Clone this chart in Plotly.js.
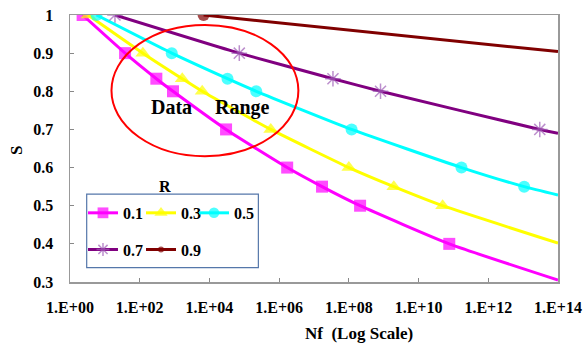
<!DOCTYPE html>
<html>
<head>
<meta charset="utf-8">
<script src="https://cdn.plot.ly/plotly-3.0.1.min.js"></script>
<style>
html,body{margin:0;padding:0;background:#fff;}
#chart{width:585px;height:345px;}
</style>
</head>
<body>
<div id="chart"></div>
<script>
// ---- data ----
var seriesNames = ["0.1", "0.3", "0.5", "0.7", "0.9"];

var nfR01 = [2.3, 38, 300, 900, 3.0e4, 1.7e6, 1.7e7, 2.1e8, 7.6e10, 1e14];
var sR01  = [1, 0.9, 0.833, 0.8, 0.7, 0.6, 0.55, 0.5, 0.4, 0.305];

var nfR03 = [3.3, 123, 1.66e3, 6.2e3, 5.75e5, 1.0e8, 1.95e9, 4.9e10, 1e14];
var sR03  = [1, 0.9, 0.833, 0.8, 0.7, 0.6, 0.55, 0.5, 0.402];

var nfR05 = [5.75, 830, 3.3e4, 2.2e5, 1.2e8, 1.7e11, 1.07e13, 1e14];
var sR05  = [1, 0.9, 0.833, 0.8, 0.7, 0.6, 0.55, 0.528];

var nfR07 = [19.5, 7.2e4, 3.5e7, 8.1e8, 3.0e13, 1e14];
var sR07  = [1, 0.9, 0.833, 0.8, 0.7, 0.69];

var nfR09 = [6.8e3, 1e14];
var sR09  = [1, 0.904];

var xTickVals = [1, 1e2, 1e4, 1e6, 1e8, 1e10, 1e12, 1e14];
var xTickText = ["1.E+00", "1.E+02", "1.E+04", "1.E+06", "1.E+08", "1.E+10", "1.E+12", "1.E+14"];
var yTickVals = [0.3, 0.4, 0.5, 0.6, 0.7, 0.8, 0.9, 1];
var yTickText = ["0.3", "0.4", "0.5", "0.6", "0.7", "0.8", "0.9", "1"];

// ---- styling ----
var serif = "'Liberation Serif', 'Times New Roman', serif";
function sizes(n, s) { var a = []; for (var i = 0; i < n; i++) a.push(i === n - 1 ? 0 : s); return a; }

function tr(x, y, name, color, symbol, msize, mcolor, legend) {
  return {
    x: x, y: y, name: name, type: "scatter", mode: "lines+markers",
    line: {color: color, width: 3, shape: "spline", smoothing: 0.5},
    marker: {symbol: symbol, size: sizes(x.length, msize), color: mcolor,
             line: {color: mcolor, width: symbol === "asterisk-open" ? 1.5 : 0}},
    legend: legend
  };
}

var data = [
  tr(nfR01, sR01, seriesNames[0], "#FF00FF", "square", 12, "#FF00FF", "legend"),
  tr(nfR03, sR03, seriesNames[1], "#FFFF00", "triangle-up", 13, "#FFFF00", "legend2"),
  tr(nfR05, sR05, seriesNames[2], "#00FFFF", "circle", 12, "#00FFFF", "legend3"),
  tr(nfR07, sR07, seriesNames[3], "#800080", "asterisk-open", 13, "#A060B8", "legend4"),
  tr(nfR09, sR09, seriesNames[4], "#800000", "circle", 12, "#800000", "legend5")
];

var tickFont = {family: serif, size: 16, color: "#000", weight: "bold"};
var legFont = {family: serif, size: 16, color: "#000", weight: "bold"};

function leg(x, y) {
  return {orientation: "h", x: x, xanchor: "left", y: y, yanchor: "middle",
          bgcolor: "rgba(0,0,0,0)", borderwidth: 0, font: legFont, itemwidth: 30};
}
var row1 = 0.2587, row2 = 0.1215;

var layout = {
  width: 585, height: 345,
  margin: {l: 70, r: 27, t: 15, b: 63},
  paper_bgcolor: "#fff", plot_bgcolor: "#fff",
  showlegend: true,
  xaxis: {
    type: "log", range: [0, 14],
    tickvals: xTickVals, ticktext: xTickText,
    ticks: "inside", ticklen: 4, tickcolor: "#888",
    showgrid: false, zeroline: false,
    showline: true, linecolor: "#999", linewidth: 1.5, mirror: true,
    tickfont: tickFont, ticklabelstandoff: 10
  },
  yaxis: {
    range: [0.3, 1],
    tickvals: yTickVals, ticktext: yTickText,
    ticks: "inside", ticklen: 4, tickcolor: "#888",
    showgrid: false, zeroline: false,
    showline: true, linecolor: "#999", linewidth: 1.5, mirror: true,
    tickfont: tickFont, ticklabelstandoff: 12
  },
  legend:  leg(0.0266, row1),
  legend2: leg(0.1455, row1),
  legend3: leg(0.2541, row1),
  legend4: leg(0.0266, row2),
  legend5: leg(0.1455, row2),
  shapes: [
    {type: "rect", xref: "paper", yref: "paper", x0: 0.0342, x1: 0.386, y0: 0.054, y1: 0.329,
     line: {color: "#5577AA", width: 1.2}, fillcolor: "rgba(0,0,0,0)", layer: "above"},
    {type: "circle", xref: "x domain", yref: "y domain", x0: 0.085, x1: 0.468, y0: 0.471, y1: 0.963,
     line: {color: "#FF0000", width: 2}, layer: "above"}
  ],
  annotations: [
    {text: "R", xref: "paper", yref: "paper", x: 0.1947, y: 0.3588, xanchor: "center", yanchor: "middle",
     showarrow: false, font: {family: serif, size: 16, color: "#000", weight: "bold"}},
    {text: "Data", xref: "paper", yref: "paper", x: 0.207, y: 0.655, xanchor: "center", yanchor: "middle",
     showarrow: false, font: {family: serif, size: 20, color: "#000", weight: "bold"}},
    {text: "Range", xref: "paper", yref: "paper", x: 0.3545, y: 0.655, xanchor: "center", yanchor: "middle",
     showarrow: false, font: {family: serif, size: 20, color: "#000", weight: "bold"}},
    {text: "S", xref: "paper", yref: "paper", x: -0.1107, y: 0.494, xanchor: "center", yanchor: "middle",
     textangle: -90, showarrow: false, font: {family: serif, size: 17, color: "#000", weight: "bold"}},
    {text: "Nf  (Log Scale)", xref: "paper", yref: "paper", x: 0.592, y: -0.192, xanchor: "center", yanchor: "middle",
     showarrow: false, font: {family: serif, size: 17, color: "#000", weight: "bold"}}
  ]
};

Plotly.newPlot("chart", data, layout, {displayModeBar: false, staticPlot: true});
</script>
</body>
</html>
